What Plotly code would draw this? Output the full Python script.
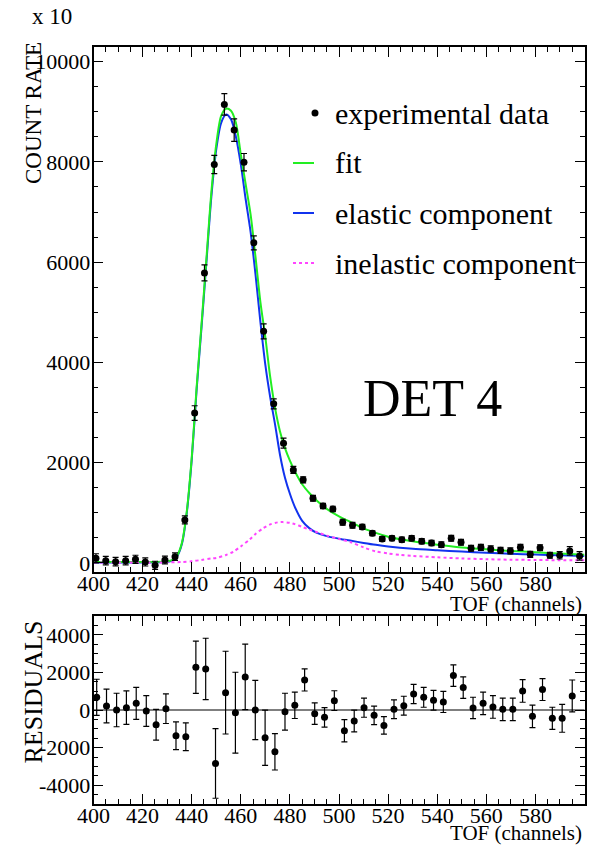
import plotly.graph_objects as go

# ---------------- data ----------------
top_x = [401.0, 405.0, 409.0, 413.1, 417.1, 421.1, 425.1, 429.1, 433.2, 437.2,
         441.2, 445.2, 449.2, 453.3, 457.3, 461.3, 465.3, 469.3, 473.4, 477.4,
         481.4, 485.4, 489.4, 493.5, 497.5, 501.5, 505.5, 509.5, 513.6, 517.6,
         521.6, 525.6, 529.6, 533.7, 537.7, 541.7, 545.7, 549.7, 553.8, 557.8,
         561.8, 565.8, 569.8, 573.9, 577.9, 581.9, 585.9, 589.9, 594.0, 598.0]
top_y = [94, 46, 26, 46, 74, 20, -46, 60, 126, 859,
         2990, 5786, 7949, 9147, 8634, 7995, 6385, 4620, 3175, 2390,
         1857, 1658, 1292, 1138, 1078, 813, 753, 719, 593, 479,
         493, 465, 493, 433, 399, 366, 493, 413, 293, 313,
         280, 253, 240, 313, 173, 306, 153, 153, 240, 140]
top_err = [90, 85, 85, 85, 80, 80, 80, 78, 74, 80,
           146, 160, 183, 213, 223, 173, 140, 150, 100, 100,
           70, 59, 57, 52, 53, 59, 58, 51, 49, 47,
           50, 50, 51, 53, 53, 56, 57, 57, 57, 60,
           60, 60, 60, 60, 60, 58, 59, 74, 85, 85]

res_x = [401.3, 405.3, 409.4, 413.4, 417.4, 421.5, 425.5, 429.5, 433.6, 437.6,
         441.7, 445.7, 449.7, 453.8, 457.8, 461.8, 465.9, 469.9, 473.9, 478.0,
         482.0, 486.0, 490.1, 494.1, 498.1, 502.2, 506.2, 510.2, 514.3, 518.3,
         522.4, 526.4, 530.4, 534.5, 538.5, 542.5, 546.6, 550.6, 554.6, 558.7,
         562.7, 566.7, 570.8, 574.8, 578.8, 582.9, 586.9, 590.9, 595.0]
res_y = [676, 213, 0, 124, 356, -53, -782, 71, -1369, -1422,
         2276, 2187, -2844, 924, -142, 1760, 0, -1476, -2222, -89,
         249, 1600, -196, -391, 498, -1102, -587, 124, -284, -818,
         36, 231, 853, 676, 516, 427, 1831, 1191, 107, 356,
         160, 36, 36, 1013, -338, 1084, -444, -444, 747]
res_err = [960, 900, 890, 890, 850, 820, 820, 790, 740, 740,
           1390, 1630, 1850, 2200, 2150, 1740, 1580, 1470, 970, 980,
           700, 590, 570, 515, 525, 590, 580, 510, 490, 470,
           500, 500, 510, 530, 525, 560, 570, 570, 570, 600,
           600, 600, 600, 600, 600, 580, 590, 740, 850]

# fit curve (green)
fit_x = [400, 420, 430, 432, 434, 436, 438, 440, 442, 444, 446, 448, 450, 452,
         454, 456, 458, 460, 462, 464, 466, 468, 470, 472, 474, 476, 478, 480,
         482, 485, 488, 491, 495, 500, 505, 510, 515, 520, 530, 540, 550, 560,
         570, 580, 590, 600]
fit_y = [18, 20, 32, 55, 145, 400, 1030, 2090, 3500, 4760, 6070, 7390, 8350, 8920,
         9061, 9020, 8780, 8150, 7550, 6950, 6100, 5200, 4500, 3700, 3080, 2620, 2290, 2040,
         1830, 1570, 1390, 1240, 1080, 930, 810, 690, 600, 525, 432, 365, 310, 272,
         240, 214, 189, 165]

# elastic component (blue)
el_x = [400, 420, 426, 430, 432, 434, 436, 438, 440, 442, 444, 446, 448, 450,
        452, 454, 456, 458, 460, 462, 464, 466, 468, 470, 472, 474, 476, 478,
        480, 482, 485, 488, 491, 495, 500, 505, 510, 515, 520, 530, 540, 550,
        560, 570, 580, 590, 600]
el_y = [10, 10, 12, 20, 45, 130, 380, 1000, 2050, 3450, 4700, 6000, 7300, 8250,
        8780, 8947, 8850, 8500, 7950, 7250, 6600, 5750, 4800, 3950, 3300, 2750, 2150, 1700,
        1380, 1120, 840, 690, 600, 535, 485, 442, 400, 362, 330, 285, 255, 228,
        205, 185, 168, 153, 140]

# inelastic component (magenta, dotted)
inel_x = [400, 420, 430, 436, 440, 444, 448, 450, 454, 457, 460, 463.7, 466, 469,
          472, 475, 477, 480, 482, 485, 488, 491, 495, 500, 505, 510, 515, 520,
          525, 530, 540, 550, 560, 570, 580, 590, 600]
inel_y = [8, 10, 12, 20, 35, 60, 90, 100, 160, 226, 330, 473, 580, 690,
          770, 810, 815, 800, 775, 720, 665, 615, 545, 480, 410, 310, 230, 190,
          160, 140, 113, 90, 75, 65, 60, 55, 53]

x_ticks = [400, 420, 440, 460, 480, 500, 520, 540, 560, 580]
y_ticks = [0, 2000, 4000, 6000, 8000, 10000]
res_ticks = [-4000, -2000, 0, 2000, 4000]
res_tick_text = ["-4000", "-2000", "0", "2000", "4000"]

legend_labels = ["experimental data", "fit", "elastic component", "inelastic component"]

# ---------------- styling ----------------
W, H = 589, 845
FONT = "Liberation Serif"
GREEN = "#22ee22"
BLUE = "#1133ee"
MAGENTA = "#ff44ff"


def px(x):
    return x / W


def py(y):
    return 1 - y / H


X0, X1 = 93.5, 584.5
TOP0, TOP1 = 47, 572
BOT0, BOT1 = 616, 804

fig = go.Figure()

fig.add_trace(go.Scatter(x=el_x, y=el_y, mode="lines", line=dict(color=BLUE, width=2, shape="spline", smoothing=0.8),
                         xaxis="x", yaxis="y", showlegend=False))
fig.add_trace(go.Scatter(x=fit_x, y=fit_y, mode="lines", line=dict(color=GREEN, width=2, shape="spline", smoothing=0.8),
                         xaxis="x", yaxis="y", showlegend=False))
fig.add_trace(go.Scatter(x=inel_x, y=inel_y, mode="lines",
                         line=dict(color=MAGENTA, width=2, dash="dot", shape="spline", smoothing=0.8),
                         xaxis="x", yaxis="y", showlegend=False))
fig.add_trace(go.Scatter(x=top_x, y=top_y, mode="markers",
                         marker=dict(color="black", size=7),
                         error_y=dict(type="data", array=top_err, color="black", thickness=1.2, width=3),
                         xaxis="x", yaxis="y", showlegend=False))
fig.add_trace(go.Scatter(x=res_x, y=res_y, mode="markers",
                         marker=dict(color="black", size=7),
                         error_y=dict(type="data", array=res_err, color="black", thickness=1.2, width=3),
                         xaxis="x2", yaxis="y2", showlegend=False))

tickfont = dict(family=FONT, size=22, color="black")
common_x = dict(range=[400, 600], tickvals=x_ticks, ticks="inside", ticklen=10, tickwidth=1,
                tickcolor="black", showline=True, linecolor="black", linewidth=1.5, mirror="allticks",
                showgrid=False, zeroline=False, tickfont=tickfont, automargin=False,
                ticklabelstandoff=-9,
                minor=dict(dtick=5, tick0=400, ticks="inside", ticklen=5, tickcolor="black", showgrid=False))
common_y = dict(ticks="inside", ticklen=10, tickwidth=1, tickcolor="black",
                showline=True, linecolor="black", linewidth=1.5, mirror="allticks",
                showgrid=False, zeroline=False, tickfont=tickfont, automargin=False,
                ticklabelstandoff=-3,
                minor=dict(dtick=500, tick0=0, ticks="inside", ticklen=5, tickcolor="black", showgrid=False))
fig.update_layout(
    width=W, height=H, margin=dict(l=0, r=0, t=0, b=0, autoexpand=False),
    paper_bgcolor="white", plot_bgcolor="white",
    xaxis=dict(domain=[px(X0), px(X1)], anchor="y", **common_x),
    yaxis=dict(domain=[py(TOP1), py(TOP0)], anchor="x", range=[-180, 10292],
               tickvals=y_ticks, ticktext=[str(v) for v in y_ticks], **common_y),
    xaxis2=dict(domain=[px(X0), px(X1)], anchor="y2", **common_x),
    yaxis2=dict(domain=[py(BOT1), py(BOT0)], anchor="x2", range=[-5000, 5000],
                tickvals=res_ticks, ticktext=res_tick_text, **common_y),
)

shapes = [
    dict(type="line", xref="x2 domain", yref="y2", x0=0, x1=1, y0=0, y1=0,
         line=dict(color="black", width=1.2), layer="below"),
]

# legend (drawn manually)
leg_rows = [113, 163, 213, 263]
leg_text_x = 333
shapes.append(dict(type="circle", xref="paper", yref="paper",
                   x0=px(311.5), x1=px(318.5), y0=py(leg_rows[0] + 3.5), y1=py(leg_rows[0] - 3.5),
                   fillcolor="black", line=dict(color="black", width=0)))
for row, col, dash in [(1, GREEN, "solid"), (2, BLUE, "solid"), (3, MAGENTA, "dot")]:
    shapes.append(dict(type="line", xref="paper", yref="paper",
                       x0=px(293), x1=px(314), y0=py(leg_rows[row]), y1=py(leg_rows[row]),
                       line=dict(color=col, width=2, dash=dash)))
fig.update_layout(shapes=shapes)

ann = []
for lab, yy in zip(legend_labels, leg_rows):
    ann.append(dict(text=lab, x=px(leg_text_x), y=py(yy), xref="paper", yref="paper",
                    xanchor="left", yanchor="middle", showarrow=False,
                    font=dict(family=FONT, size=30, color="black")))
ann += [
    dict(text="x 10", x=px(30), y=py(16), xref="paper", yref="paper", xanchor="left", yanchor="middle",
         showarrow=False, font=dict(family=FONT, size=23, color="black")),
    dict(text="COUNT RATE", x=px(33), y=py(40), xref="paper", yref="paper", xanchor="center", yanchor="top",
         textangle=-90, showarrow=False, font=dict(family=FONT, size=23, color="black")),
    dict(text="TOF (channels)", x=px(584), y=py(604), xref="paper", yref="paper", xanchor="right",
         yanchor="middle", showarrow=False, font=dict(family=FONT, size=21, color="black")),
    dict(text="RESIDUALS", x=px(33), y=py(619), xref="paper", yref="paper", xanchor="center", yanchor="top",
         textangle=-90, showarrow=False, font=dict(family=FONT, size=26, color="black")),
    dict(text="TOF (channels)", x=px(584), y=py(833), xref="paper", yref="paper", xanchor="right",
         yanchor="middle", showarrow=False, font=dict(family=FONT, size=21, color="black")),
    dict(text="DET 4", x=px(432), y=py(398), xref="paper", yref="paper", xanchor="center",
         yanchor="middle", showarrow=False, font=dict(family=FONT, size=52, color="black")),
]
fig.update_layout(annotations=ann)

fig.write_html("out.html", config={"displayModeBar": False},
               post_script="document.body.style.margin='0';")
